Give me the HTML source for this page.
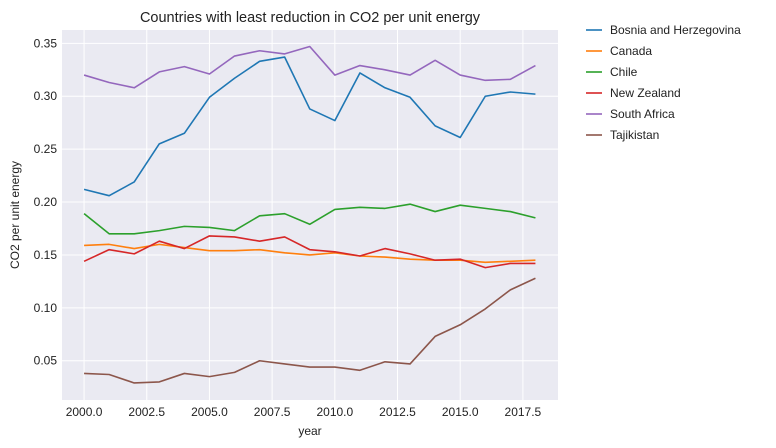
<!DOCTYPE html>
<html><head><meta charset="utf-8"><style>
body{margin:0;background:#fff;}
svg{display:block;font-family:"Liberation Sans","DejaVu Sans",sans-serif;}
</style></head><body>
<svg id="chart" width="776" height="448" xmlns="http://www.w3.org/2000/svg">
<text x="310" y="22" text-anchor="middle" font-size="14.5" fill="#222">Countries with least reduction in CO2 per unit energy</text>
<rect x="62" y="30" width="496" height="370" fill="#eaeaf2"/>
<g id="grid"></g>
<g id="series"></g>
<g id="legend"></g>
<text x="310" y="435" text-anchor="middle" font-size="12" fill="#222">year</text>
<text transform="translate(19,215) rotate(-90)" text-anchor="middle" font-size="12" fill="#222">CO2 per unit energy</text>
</svg>
<script>
const years=[2000,2001,2002,2003,2004,2005,2006,2007,2008,2009,2010,2011,2012,2013,2014,2015,2016,2017,2018];
const seriesNames=["Bosnia and Herzegovina","Canada","Chile","New Zealand","South Africa","Tajikistan"];
const colors=["#1f77b4","#ff7f0e","#2ca02c","#d62728","#9467bd","#8c564b"];
const bosnia=[0.212,0.206,0.219,0.255,0.265,0.299,0.317,0.333,0.337,0.288,0.277,0.322,0.308,0.299,0.272,0.261,0.300,0.304,0.302];
const canada=[0.159,0.160,0.156,0.160,0.157,0.154,0.154,0.155,0.152,0.150,0.152,0.149,0.148,0.146,0.145,0.145,0.143,0.144,0.145];
const chile=[0.189,0.170,0.170,0.173,0.177,0.176,0.173,0.187,0.189,0.179,0.193,0.195,0.194,0.198,0.191,0.197,0.194,0.191,0.185];
const newZealand=[0.144,0.155,0.151,0.163,0.156,0.168,0.167,0.163,0.167,0.155,0.153,0.149,0.156,0.151,0.145,0.146,0.138,0.142,0.142];
const southAfrica=[0.320,0.313,0.308,0.323,0.328,0.321,0.338,0.343,0.340,0.347,0.320,0.329,0.325,0.320,0.334,0.320,0.315,0.316,0.329];
const tajikistan=[0.038,0.037,0.029,0.030,0.038,0.035,0.039,0.050,0.047,0.044,0.044,0.041,0.049,0.047,0.073,0.084,0.099,0.117,0.128];
const xTicks=[2000,2002.5,2005,2007.5,2010,2012.5,2015,2017.5];
const yTicks=[0.05,0.10,0.15,0.20,0.25,0.30,0.35];
const allSeries=[bosnia,canada,chile,newZealand,southAfrica,tajikistan];
const NS="http://www.w3.org/2000/svg";
const X0=62,X1=558,Y0=400,Y1=30,xmin=1999.12,xmax=2018.9,ymin=0.0129,ymax=0.3626;
const x=v=>X0+(v-xmin)/(xmax-xmin)*(X1-X0);
const y=v=>Y0-(v-ymin)/(ymax-ymin)*(Y0-Y1);
function mk(tag,attrs,parent){const e=document.createElementNS(NS,tag);for(const k in attrs)e.setAttribute(k,attrs[k]);parent.appendChild(e);return e;}
const grid=document.getElementById('grid');
xTicks.forEach(t=>{
  const l=mk('line',{x1:x(t),x2:x(t),y1:Y1,y2:Y0,stroke:'#fff','stroke-width':1},grid);
  
  
  const tx=mk('text',{x:x(t),y:Y0+16,'text-anchor':'middle','font-size':12,fill:'#222'},grid);
  tx.textContent=t.toFixed(1);
  
  
});
yTicks.forEach(t=>{
  const l=mk('line',{x1:X0,x2:X1,y1:y(t),y2:y(t),stroke:'#fff','stroke-width':1},grid);
  
  
  const tx=mk('text',{x:X0-5,y:y(t)+4,'text-anchor':'end','font-size':12,fill:'#222'},grid);
  tx.textContent=t.toFixed(2);
  
  
});
const sg=document.getElementById('series');
allSeries.forEach((s,i)=>{
  const d=s.map((v,j)=>(j?'L':'M')+x(years[j]).toFixed(2)+','+y(v).toFixed(2)).join('');
  const p=mk('path',{d:d,fill:'none',stroke:colors[i],'stroke-width':1.6,'stroke-linejoin':'round'},sg);
  
  
});
const lg=document.getElementById('legend');
seriesNames.forEach((n,i)=>{
  const yy=30+i*21;
  const g=mk('g',{},lg);
  
  
  mk('line',{x1:586,x2:602,y1:yy,y2:yy,stroke:colors[i],'stroke-width':1.6},g);
  const t=mk('text',{x:610,y:yy+4,'font-size':12,fill:'#222'},g);
  t.textContent=n;
});
</script>
</body></html>
